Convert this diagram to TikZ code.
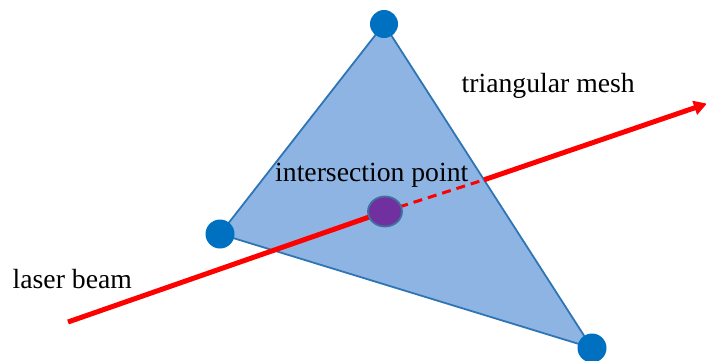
\documentclass[tikz,border=0pt]{standalone}
\usepackage{fontspec}
\setmainfont{Liberation Serif}
\usetikzlibrary{arrows.meta,shapes.geometric}
\definecolor{meshfill}{HTML}{8EB4E3}
\definecolor{meshline}{HTML}{2E75B6}
\definecolor{vert}{HTML}{0070C0}
\definecolor{ipfill}{HTML}{7030A0}
\definecolor{ipline}{HTML}{41719C}
\tikzset{
  vertexdot/.style={circle, fill=vert, draw=none, minimum size=28pt, inner sep=0pt},
  label text/.style={font=\fontsize{27.7}{32}\selectfont, inner sep=0pt, anchor=base west},
  beam/.style={draw=red, line width=5pt},
  ipnode/.style={ellipse, fill=ipfill, draw=ipline, line width=1.8pt, minimum width=34pt, minimum height=30pt, inner sep=0pt},
}
\begin{document}
\begin{tikzpicture}[x=1pt,y=-1pt]
\useasboundingbox (0,0) rectangle (706,360);
\coordinate (A) at (384,24);
\coordinate (B) at (220,234);
\coordinate (C) at (592,348);
\fill[meshfill] (A) -- (B) -- (C) -- cycle;
\draw[meshline, line width=1.8pt, line join=round] (A) -- (B) -- (C) -- cycle;
\coordinate (start) at (68,322);
\coordinate (exit) at (484,179.8);
\coordinate (tip) at (707,103.6);
\coordinate (ipc) at (385,211.5);
\draw[beam] (start) -- (ipc);
\draw[beam, line width=3pt, dash pattern=on 9pt off 6pt] (ipc) -- (exit);
\draw[beam, -{Triangle[length=13pt,width=14pt]}] (exit) -- (tip);
\node[ipnode] (ip) at (ipc) {};
\node[vertexdot] (va) at (A) {};
\node[vertexdot, minimum size=29pt] (vb) at (B) {};
\node[vertexdot, minimum size=29pt] (vc) at (C) {};
\node[label text] (t1) at (461.5,92.7) {triangular mesh};
\node[label text] (t2) at (275,181.7) {intersection point};
\node[label text] (t3) at (12.5,288.7) {laser beam};
\end{tikzpicture}
\end{document}
